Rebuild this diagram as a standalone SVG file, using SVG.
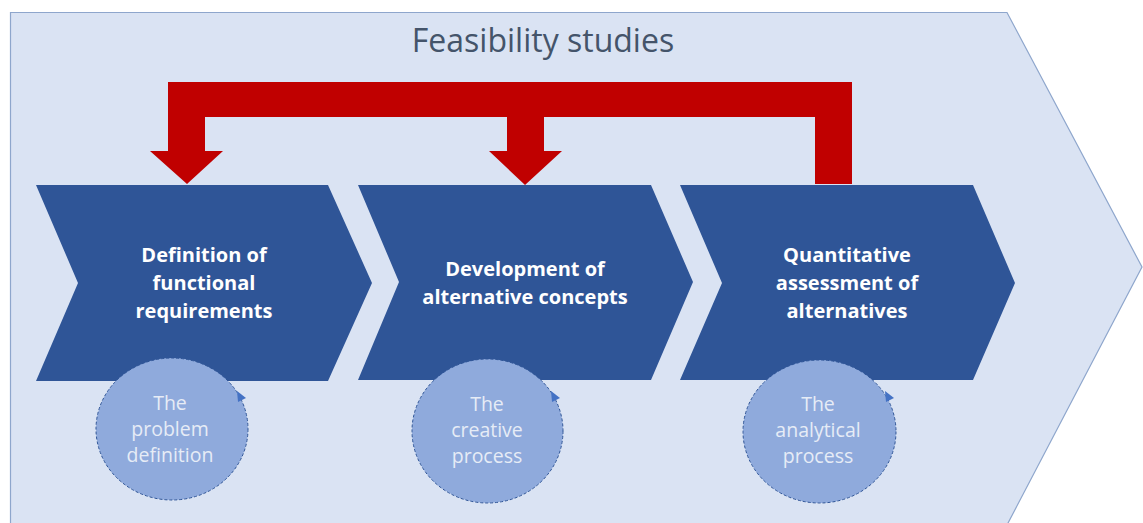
<svg xmlns="http://www.w3.org/2000/svg" width="1143" height="523" viewBox="0 0 1143 523">
<style>
.chev{fill:#2f5597;}
.circ{fill:#8faadc;stroke:#2f5597;stroke-width:1;stroke-dasharray:3 2;}
.tri{fill:#4472c4;}
.ct{font-family:"Open Sans","Liberation Sans",sans-serif;font-size:19.5px;fill:#e6ecf6;text-anchor:middle;}
.bt{font-family:"Open Sans","Liberation Sans",sans-serif;font-size:20px;font-weight:bold;fill:#ffffff;text-anchor:middle;}
</style>
<rect width="1143" height="523" fill="#ffffff"/>
<g id="background">
<polygon points="10.5,12.5 1007,12.5 1142,267 1007,525 10.5,525" fill="#dae3f3" stroke="#8ea6cc" stroke-width="1.2"/>
<text x="543" y="52" font-family="'Open Sans','Liberation Sans',sans-serif" font-size="32" fill="#44546a" text-anchor="middle">Feasibility studies</text>
</g>
<g id="connectors">
<polygon fill="#c00000" points="150,151 168,151 168,82 852,82 852,184 815,184 815,117 544,117 544,151 562,151 525,185 489,151 507,151 507,117 205,117 205,151 223,151 187,184"/>
</g>
<g id="step1">
<polygon class="chev" points="36,185 328,185 372,283 328,381 36,381 78,283"/>
<text class="bt" x="204" y="262">Definition of</text>
<text class="bt" x="204" y="290">functional</text>
<text class="bt" x="204" y="318">requirements</text>
</g>
<g id="step2">
<polygon class="chev" points="358,185 651,185 693,282 651,380 358,380 399,282"/>
<text class="bt" x="525" y="276">Development of</text>
<text class="bt" x="525" y="304">alternative concepts</text>
</g>
<g id="step3">
<polygon class="chev" points="680,185 973,185 1015,283 973,380 680,380 722,283"/>
<text class="bt" x="847" y="262">Quantitative</text>
<text class="bt" x="847" y="290">assessment of</text>
<text class="bt" x="847" y="318">alternatives</text>
</g>
<g id="circle1">
<ellipse class="circ" cx="172" cy="429" rx="76" ry="71"/>
<polygon class="tri" points="237,391 246,398 238,402"/>
<text class="ct" x="170" y="410">The</text>
<text class="ct" x="170" y="436">problem</text>
<text class="ct" x="170" y="462">definition</text>
</g>
<g id="circle2">
<ellipse class="circ" cx="487.5" cy="431" rx="75.5" ry="72"/>
<polygon class="tri" points="551,391 560,398 552,402"/>
<text class="ct" x="487" y="411">The</text>
<text class="ct" x="487" y="437">creative</text>
<text class="ct" x="487" y="463">process</text>
</g>
<g id="circle3">
<ellipse class="circ" cx="819.5" cy="431.5" rx="76.5" ry="71.5"/>
<polygon class="tri" points="885,391 894,398 886,402"/>
<text class="ct" x="818" y="411">The</text>
<text class="ct" x="818" y="437">analytical</text>
<text class="ct" x="818" y="463">process</text>
</g>
</svg>
